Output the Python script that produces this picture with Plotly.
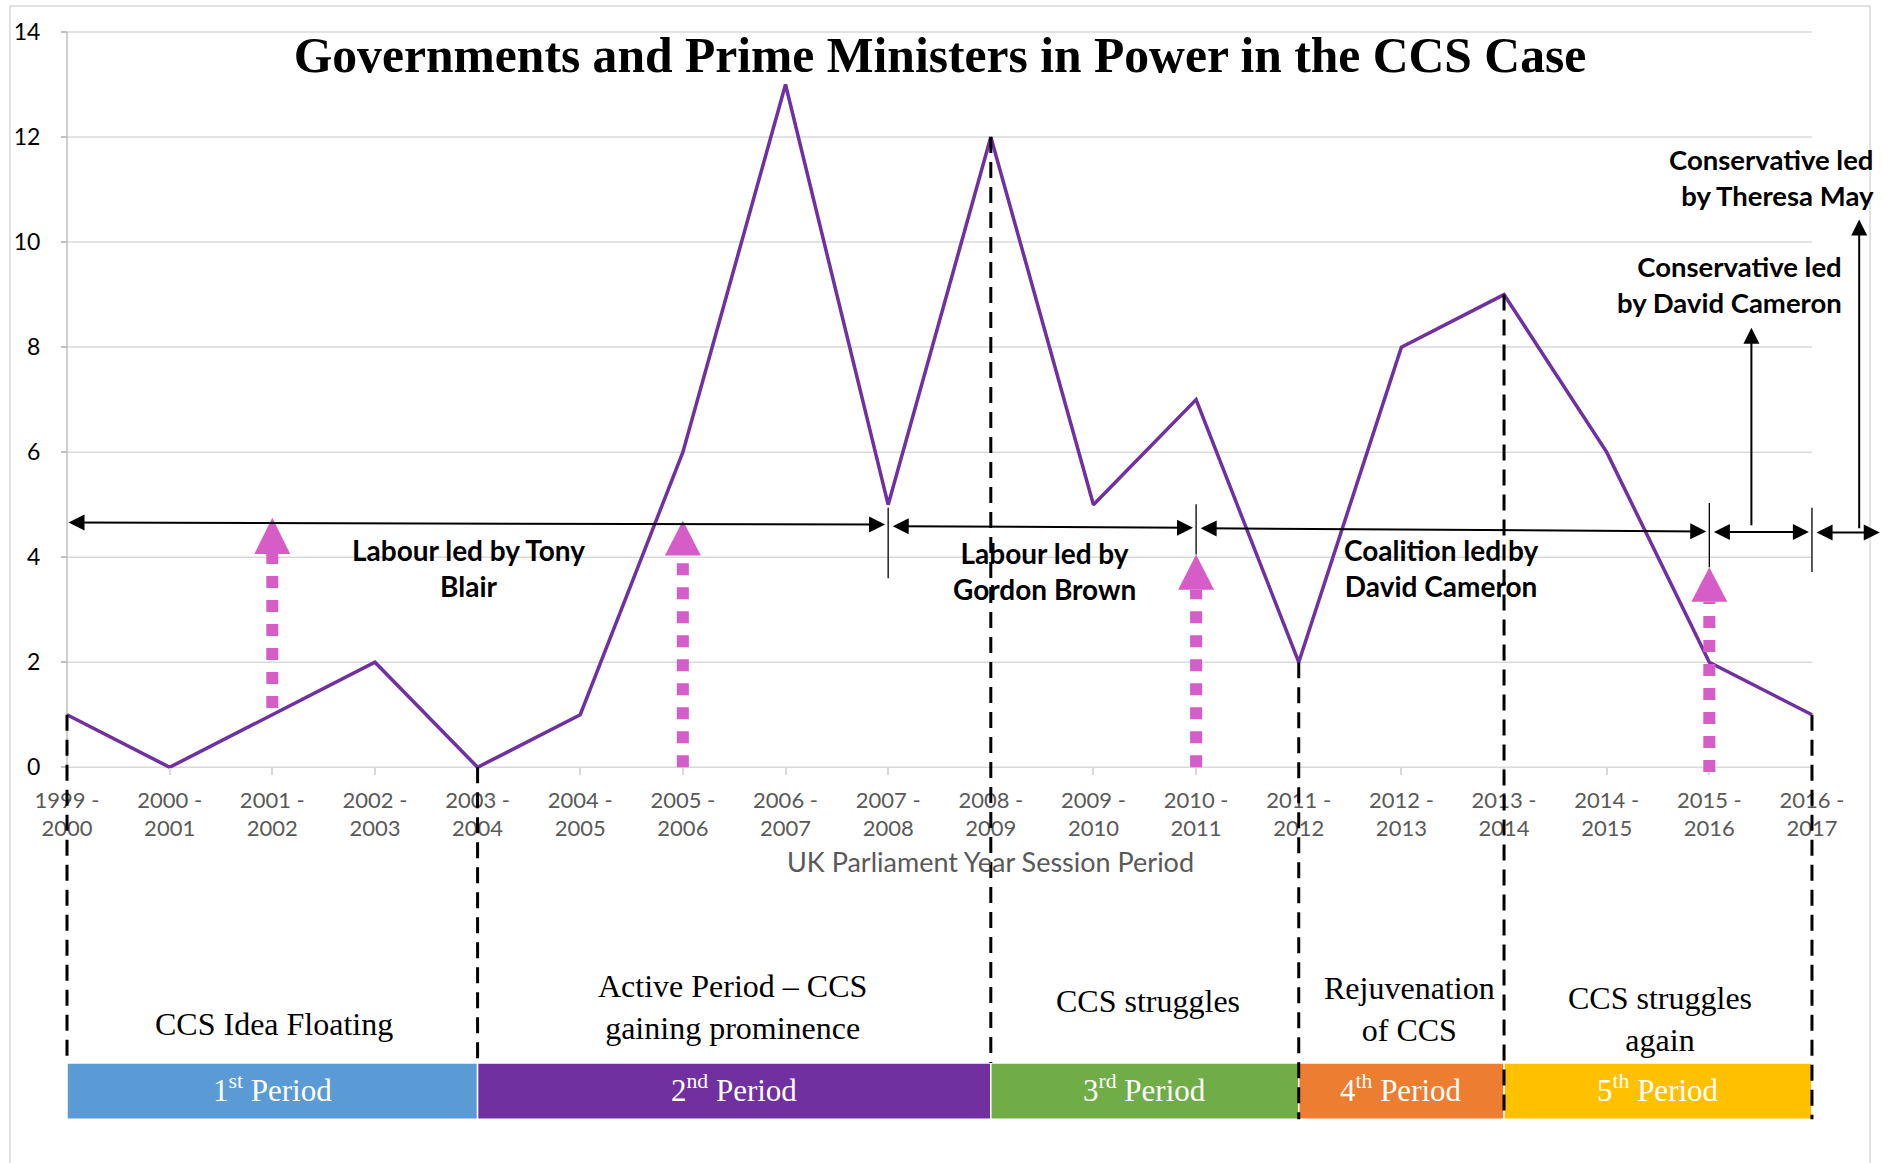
import plotly.graph_objects as go

# ---------------- data ----------------
sessions = ["1999 - 2000", "2000 - 2001", "2001 - 2002", "2002 - 2003", "2003 - 2004",
            "2004 - 2005", "2005 - 2006", "2006 - 2007", "2007 - 2008", "2008 - 2009",
            "2009 - 2010", "2010 - 2011", "2011 - 2012", "2012 - 2013", "2013 - 2014",
            "2014 - 2015", "2015 - 2016", "2016 - 2017"]
counts = [1, 0, 1, 2, 0, 1, 6, 13, 5, 12, 5, 7, 2, 8, 9, 6, 2, 1]
y_ticks = [0, 2, 4, 6, 8, 10, 12, 14]
x_title = "UK Parliament Year Session Period"

period_names = ["1<sup>st</sup> Period", "2<sup>nd</sup> Period", "3<sup>rd</sup> Period",
                "4<sup>th</sup> Period", "5<sup>th</sup> Period"]
period_start = [0, 4, 9, 12, 14]
period_end = [4, 9, 12, 14, 17]
period_colors = ["#5B9BD5", "#7030A0", "#70AD47", "#ED7D31", "#FFC000"]
period_desc = ["CCS Idea Floating", "Active Period – CCS<br>gaining prominence", "CCS struggles",
               "Rejuvenation<br>of CCS", "CCS struggles<br>again"]
desc_x = [2.02, 6.48, 10.53, 13.08, 15.52]
desc_y = [-4.89, -4.56, -4.46, -4.60, -4.79]

boundary_x = [0, 4, 9, 12, 14, 17]
boundary_bottom = [-5.52, -5.55, -5.63, -6.70, -6.70, -6.70]

gov_arrow_x0 = [0.0, 8.03, 11.03, 16.03, 17.03]
gov_arrow_x1 = [7.97, 10.97, 15.97, 16.97, 17.66]
gov_arrow_y0 = [4.66, 4.59, 4.55, 4.48, 4.47]
gov_arrow_y1 = [4.62, 4.56, 4.49, 4.48, 4.47]
separator_x = [8, 11, 16, 17]
separator_top = [4.94, 5.01, 5.03, 4.94]
separator_bottom = [3.60, 4.05, 3.81, 3.72]
gov_labels = ["Labour led by Tony<br>Blair", "Labour led by<br>Gordon Brown",
              "Coalition led by<br>David Cameron"]
gov_label_x = [3.91, 9.52, 13.39]
gov_label_y = [3.79, 3.74, 3.79]
con_labels = ["Conservative led<br>by David Cameron", "Conservative led<br>by Theresa May"]
con_arrow_x = [16.41, 17.46]
con_arrow_y0 = [4.58, 4.52]
con_arrow_y1 = [8.37, 10.43]
con_label_right = [17.31, 17.62]
con_label_y = [9.19, 11.23]

policy_x = [2, 6, 11, 16]
policy_base = [1.13, 0.0, 0.0, -0.09]
policy_head_base = [4.06, 4.03, 3.38, 3.15]
policy_tip = [4.75, 4.70, 4.05, 3.81]

# ---------------- layout constants ----------------
X_RANGE = [-0.302, 17.692]
Y_RANGE = [-6.964, 14.038]
BAR_TOP, BAR_BOTTOM, BAR_LABEL_Y = -5.63, -6.70, -6.11
X_TITLE_POS = (9.0, -1.80)
HEAD_HALF = 0.175
W, H = 1883, 1163
ML, MR, MT, MB = 36, 0, 30, 30
PINK = "#D65DC8"
GRID = "#D9D9D9"
SANS = "Lato"
SERIF = "Liberation Serif"

x_idx = list(range(len(sessions)))
tick_text = [s.replace(" - ", " -<br>") for s in sessions]

fig = go.Figure()
fig.add_trace(go.Scatter(x=x_idx, y=counts, mode="lines",
                         line=dict(color="#7030A0", width=3.5),
                         hoverinfo="skip", showlegend=False))

shapes = []
# gridlines (0..17 only)
for yv in y_ticks:
    shapes.append(dict(type="line", xref="x", yref="y", x0=0, x1=len(sessions) - 1,
                       y0=yv, y1=yv, line=dict(color=GRID, width=1.5), layer="below"))
# y axis line
shapes.append(dict(type="line", xref="x", yref="y", x0=0, x1=0, y0=0, y1=y_ticks[-1],
                   line=dict(color="#BFBFBF", width=1.5), layer="below"))

# period bars
for s, e, c in zip(period_start, period_end, period_colors):
    shapes.append(dict(type="rect", xref="x", yref="y", x0=s, x1=e, y0=BAR_BOTTOM, y1=BAR_TOP,
                       fillcolor=c, line=dict(color="white", width=1.5), layer="below"))

# dashed period boundaries
for bx, bb in zip(boundary_x, boundary_bottom):
    shapes.append(dict(type="line", xref="x", yref="y", x0=bx, x1=bx, y0=counts[bx], y1=bb,
                       line=dict(color="black", width=3, dash="16px,9px"), layer="above"))

# pink policy arrows
for px, pb, hb, pt in zip(policy_x, policy_base, policy_head_base, policy_tip):
    shapes.append(dict(type="line", xref="x", yref="y", x0=px, x1=px, y0=pb, y1=hb,
                       line=dict(color=PINK, width=12, dash="12px,12px"), layer="above"))
    shapes.append(dict(type="path", xref="x", yref="y",
                       path=f"M {px - HEAD_HALF},{hb} L {px + HEAD_HALF},{hb} L {px},{pt} Z",
                       fillcolor=PINK, line=dict(color=PINK, width=0), layer="above"))

# separators
for sx, st, sb in zip(separator_x, separator_top, separator_bottom):
    shapes.append(dict(type="line", xref="x", yref="y", x0=sx, x1=sx, y0=sb, y1=st,
                       line=dict(color="black", width=1.3), layer="above"))

# frame
shapes.append(dict(type="rect", xref="paper", yref="paper",
                   x0=(10 - ML) / (W - ML - MR), x1=(1870 - ML) / (W - ML - MR),
                   y0=-0.1, y1=1 + (MT - 6) / (H - MT - MB),
                   line=dict(color=GRID, width=1.5), fillcolor="rgba(0,0,0,0)", layer="below"))

annotations = []
# horizontal government arrows
for x0, x1, y0, y1 in zip(gov_arrow_x0, gov_arrow_x1, gov_arrow_y0, gov_arrow_y1):
    annotations.append(dict(x=x1, y=y1, ax=x0, ay=y0, xref="x", yref="y", axref="x", ayref="y",
                            text="", showarrow=True, arrowside="end+start",
                            arrowhead=2, startarrowhead=2, arrowsize=1.6, startarrowsize=1.6,
                            arrowwidth=2, arrowcolor="black", standoff=0, startstandoff=0))
# vertical conservative arrows
for cx, c0, c1 in zip(con_arrow_x, con_arrow_y0, con_arrow_y1):
    annotations.append(dict(x=cx, y=c1, ax=cx, ay=c0, xref="x", yref="y", axref="x", ayref="y",
                            text="", showarrow=True, arrowhead=2, arrowsize=1.6,
                            arrowwidth=2, arrowcolor="black", standoff=0))
# government labels
for t, lx, ly in zip(gov_labels, gov_label_x, gov_label_y):
    annotations.append(dict(x=lx, y=ly, xref="x", yref="y", text=f"<b>{t}</b>", showarrow=False,
                            font=dict(family=SANS, size=28, color="black"), align="center"))
for t, lx, ly in zip(con_labels, con_label_right, con_label_y):
    annotations.append(dict(x=lx, y=ly, xref="x", yref="y", text=f"<b>{t}</b>", showarrow=False,
                            xanchor="right", align="right",
                            font=dict(family=SANS, size=27.5, color="black")))
# period descriptions and bar labels
for t, dx, dy in zip(period_desc, desc_x, desc_y):
    annotations.append(dict(x=dx, y=dy, xref="x", yref="y", text=t, showarrow=False,
                            font=dict(family=SERIF, size=32, color="black"), align="center"))
for t, s, e in zip(period_names, period_start, period_end):
    annotations.append(dict(x=(s + e) / 2, y=BAR_LABEL_Y, xref="x", yref="y", text=t,
                            showarrow=False, font=dict(family=SERIF, size=31, color="white")))
# x axis title
annotations.append(dict(x=X_TITLE_POS[0], y=X_TITLE_POS[1], xref="x", yref="y", text=x_title,
                        showarrow=False, font=dict(family=SANS, size=27, color="#595959")))

fig.update_layout(
    width=W, height=H,
    margin=dict(l=ML, r=MR, t=MT, b=MB),
    paper_bgcolor="white", plot_bgcolor="white",
    showlegend=False,
    title=dict(text="<b>Governments and Prime Ministers in Power in the CCS Case</b>",
               x=940 / W, xref="container", xanchor="center",
               y=1 - 55 / H, yref="container", yanchor="middle",
               font=dict(family=SERIF, size=49.6, color="black")),
    xaxis=dict(range=X_RANGE, tickmode="array", tickvals=x_idx, ticktext=tick_text,
               showgrid=False, zeroline=False, showline=False,
               ticks="outside", ticklen=7, tickcolor=GRID, tickwidth=1.5,
               tickfont=dict(family=SANS, size=22, color="#595959"),
               ticklabelstandoff=6,
               anchor="free",
               position=(0 - Y_RANGE[0]) / (Y_RANGE[1] - Y_RANGE[0])),
    yaxis=dict(range=Y_RANGE, tickmode="array", tickvals=y_ticks,
               showgrid=False, zeroline=False, showline=False,
               ticks="outside", ticklen=6, tickcolor="#BFBFBF", tickwidth=1.5,
               tickfont=dict(family=SANS, size=23, color="black"),
               ticklabelstandoff=16,
               anchor="free",
               position=(0 - X_RANGE[0]) / (X_RANGE[1] - X_RANGE[0])),
    shapes=shapes,
    annotations=annotations,
)

fig.write_html("out.html")
